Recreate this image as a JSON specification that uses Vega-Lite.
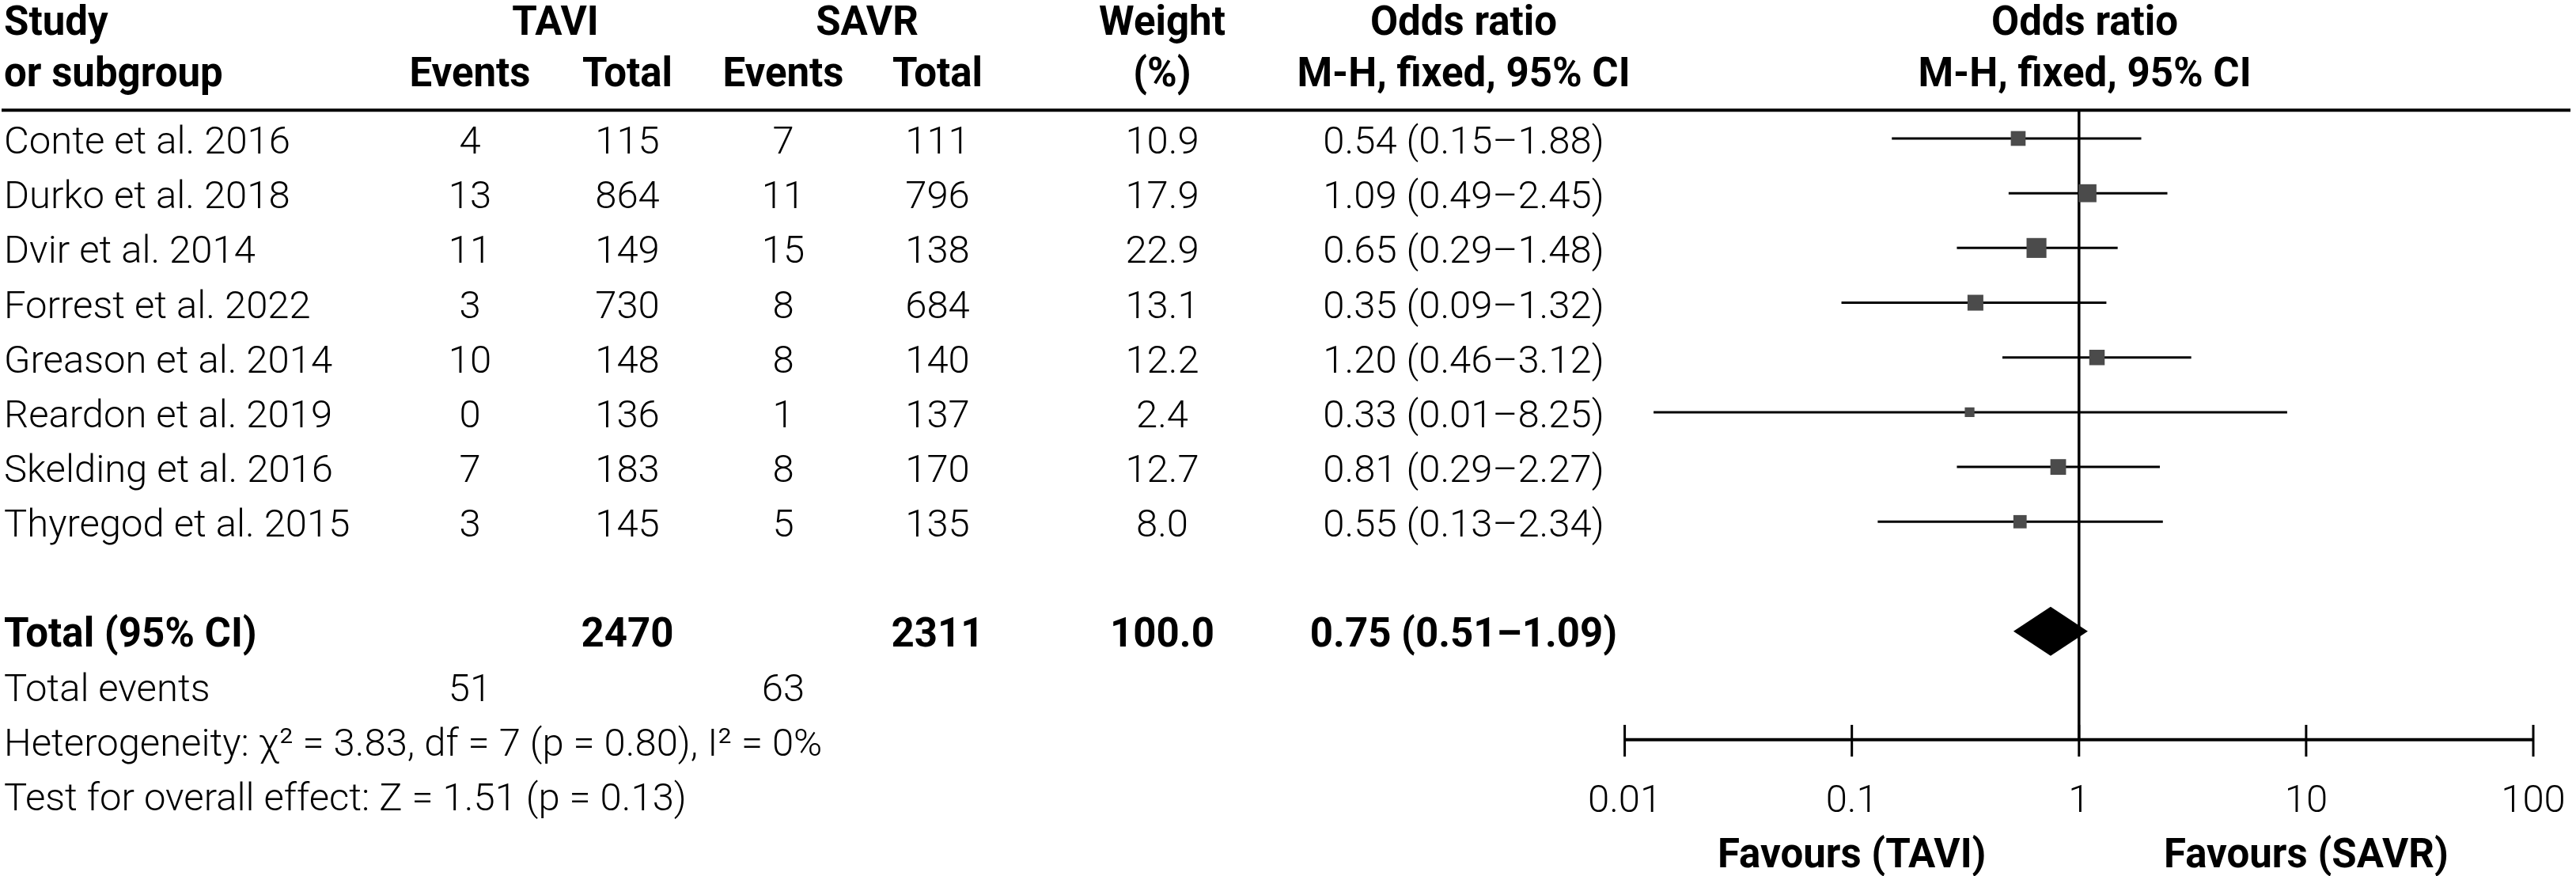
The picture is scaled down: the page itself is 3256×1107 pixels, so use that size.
{
  "$schema": "https://vega.github.io/schema/vega-lite/v6.json",
  "padding": 0,
  "spacing": 0,
  "bounds": "flush",
  "background": "white",
  "config": {
    "view": {"stroke": null},
    "axis": {"disable": true},
    "legend": {"disable": true},
    "text": {"font": "Roboto", "fontSize": 49, "fontWeight": 300, "baseline": "middle", "dy": 4, "color": "black"}
  },
  "datasets": {
    "one": [{}],
    "studies": [
      {"study": "Conte et al. 2016", "te": 4, "tt": 115, "se": 7, "st": 111, "w": 10.9, "or": 0.54, "lo": 0.15, "hi": 1.88, "ci": "0.54 (0.15–1.88)"},
      {"study": "Durko et al. 2018", "te": 13, "tt": 864, "se": 11, "st": 796, "w": 17.9, "or": 1.09, "lo": 0.49, "hi": 2.45, "ci": "1.09 (0.49–2.45)"},
      {"study": "Dvir et al. 2014", "te": 11, "tt": 149, "se": 15, "st": 138, "w": 22.9, "or": 0.65, "lo": 0.29, "hi": 1.48, "ci": "0.65 (0.29–1.48)"},
      {"study": "Forrest et al. 2022", "te": 3, "tt": 730, "se": 8, "st": 684, "w": 13.1, "or": 0.35, "lo": 0.09, "hi": 1.32, "ci": "0.35 (0.09–1.32)"},
      {"study": "Greason et al. 2014", "te": 10, "tt": 148, "se": 8, "st": 140, "w": 12.2, "or": 1.20, "lo": 0.46, "hi": 3.12, "ci": "1.20 (0.46–3.12)"},
      {"study": "Reardon et al. 2019", "te": 0, "tt": 136, "se": 1, "st": 137, "w": 2.4, "or": 0.33, "lo": 0.0134, "hi": 8.25, "ci": "0.33 (0.01–8.25)"},
      {"study": "Skelding et al. 2016", "te": 7, "tt": 183, "se": 8, "st": 170, "w": 12.7, "or": 0.81, "lo": 0.29, "hi": 2.27, "ci": "0.81 (0.29–2.27)"},
      {"study": "Thyregod et al. 2015", "te": 3, "tt": 145, "se": 5, "st": 135, "w": 8.0, "or": 0.55, "lo": 0.13, "hi": 2.34, "ci": "0.55 (0.13–2.34)"}
    ],
    "total": [{"label": "Total (95% CI)", "tt": 2470, "st": 2311, "w": 100.0, "or": 0.75, "lo": 0.51, "hi": 1.09, "ci": "0.75 (0.51–1.09)"}],
    "events": [{"label": "Total events", "te": 51, "se": 63}],
    "notes": [
      {"kind": "het", "text": "Heterogeneity: χ² = 3.83, df = 7 (p = 0.80), I² = 0%"},
      {"kind": "test", "text": "Test for overall effect: Z = 1.51 (p = 0.13)"}
    ],
    "headers": [
      {"col": "study", "line": 1, "text": "Study"},
      {"col": "study", "line": 2, "text": "or subgroup"},
      {"col": "tavi", "line": 1, "text": "TAVI"},
      {"col": "te", "line": 2, "text": "Events"},
      {"col": "tt", "line": 2, "text": "Total"},
      {"col": "savr", "line": 1, "text": "SAVR"},
      {"col": "se", "line": 2, "text": "Events"},
      {"col": "st", "line": 2, "text": "Total"},
      {"col": "w", "line": 1, "text": "Weight"},
      {"col": "w", "line": 2, "text": "(%)"},
      {"col": "or", "line": 1, "text": "Odds ratio"},
      {"col": "or", "line": 2, "text": "M-H, fixed, 95% CI"},
      {"col": "plot", "line": 1, "text": "Odds ratio"},
      {"col": "plot", "line": 2, "text": "M-H, fixed, 95% CI"}
    ],
    "ticks": [
      {"v": 0.01, "label": "0.01"},
      {"v": 0.1, "label": "0.1"},
      {"v": 1, "label": "1"},
      {"v": 10, "label": "10"},
      {"v": 100, "label": "100"}
    ],
    "favours": [
      {"v": 0.1, "label": "Favours (TAVI)"},
      {"v": 10, "label": "Favours (SAVR)"}
    ]
  },
  "hconcat": [
    {
      "width": 484, "height": 1107,
      "layer": [
        {"data": {"name": "one"}, "mark": {"type": "rule", "strokeWidth": 4, "color": "black"},
         "encoding": {"y": {"datum": 0.484, "type": "quantitative", "scale": {"domain": [-1.529, 14.471], "reverse": true, "nice": false, "zero": false}, "axis": null}}},
        {"data": {"name": "headers"}, "transform": [{"filter": "datum.col === 'study' && datum.line === 1"}],
         "mark": {"type": "text", "fontWeight": "bold", "fontSize": 51, "align": "left", "dx": 3},
         "encoding": {"x": {"datum": "l", "type": "nominal", "scale": {"type": "point", "domain": ["l", "r"], "padding": 0}, "axis": null},
                      "y": {"datum": -1.17, "type": "quantitative", "scale": {"domain": [-1.529, 14.471], "reverse": true, "nice": false, "zero": false}, "axis": null},
                      "text": {"field": "text"}}},
        {"data": {"name": "headers"}, "transform": [{"filter": "datum.col === 'study' && datum.line === 2"}],
         "mark": {"type": "text", "fontWeight": "bold", "fontSize": 51, "align": "left", "dx": 3},
         "encoding": {"x": {"datum": "l", "type": "nominal", "scale": {"type": "point", "domain": ["l", "r"], "padding": 0}, "axis": null},
                      "y": {"datum": -0.233, "type": "quantitative", "scale": {"domain": [-1.529, 14.471], "reverse": true, "nice": false, "zero": false}, "axis": null},
                      "text": {"field": "text"}}},
        {"data": {"name": "studies"}, "transform": [{"window": [{"op": "row_number", "as": "row"}]}],
         "mark": {"type": "text", "align": "left", "dx": 3},
         "encoding": {"x": {"datum": "l", "type": "nominal", "scale": {"type": "point", "domain": ["l", "r"], "padding": 0}, "axis": null},
                      "y": {"field": "row", "type": "quantitative", "scale": {"domain": [-1.529, 14.471], "reverse": true, "nice": false, "zero": false}, "axis": null},
                      "text": {"field": "study"}}},
        {"data": {"name": "total"},
         "mark": {"type": "text", "align": "left", "dx": 3, "fontWeight": "bold", "fontSize": 51},
         "encoding": {"x": {"datum": "l", "type": "nominal", "scale": {"type": "point", "domain": ["l", "r"], "padding": 0}, "axis": null},
                      "y": {"datum": 10, "type": "quantitative", "scale": {"domain": [-1.529, 14.471], "reverse": true, "nice": false, "zero": false}, "axis": null},
                      "text": {"field": "label"}}},
        {"data": {"name": "events"},
         "mark": {"type": "text", "align": "left", "dx": 3},
         "encoding": {"x": {"datum": "l", "type": "nominal", "scale": {"type": "point", "domain": ["l", "r"], "padding": 0}, "axis": null},
                      "y": {"datum": 11, "type": "quantitative", "scale": {"domain": [-1.529, 14.471], "reverse": true, "nice": false, "zero": false}, "axis": null},
                      "text": {"field": "label"}}},
        {"data": {"name": "notes"}, "transform": [{"filter": "datum.kind === 'het'"}],
         "mark": {"type": "text", "align": "left", "dx": 3},
         "encoding": {"x": {"datum": "l", "type": "nominal", "scale": {"type": "point", "domain": ["l", "r"], "padding": 0}, "axis": null},
                      "y": {"datum": 12, "type": "quantitative", "scale": {"domain": [-1.529, 14.471], "reverse": true, "nice": false, "zero": false}, "axis": null},
                      "text": {"field": "text"}}},
        {"data": {"name": "notes"}, "transform": [{"filter": "datum.kind === 'test'"}],
         "mark": {"type": "text", "align": "left", "dx": 3},
         "encoding": {"x": {"datum": "l", "type": "nominal", "scale": {"type": "point", "domain": ["l", "r"], "padding": 0}, "axis": null},
                      "y": {"datum": 13, "type": "quantitative", "scale": {"domain": [-1.529, 14.471], "reverse": true, "nice": false, "zero": false}, "axis": null},
                      "text": {"field": "text"}}}
      ]
    },
    {
      "width": 216, "height": 1107,
      "layer": [
        {"data": {"name": "one"}, "mark": {"type": "rule", "strokeWidth": 4, "color": "black"},
         "encoding": {"y": {"datum": 0.484, "type": "quantitative", "scale": {"domain": [-1.529, 14.471], "reverse": true, "nice": false, "zero": false}, "axis": null}}},
        {"data": {"name": "headers"}, "transform": [{"filter": "datum.col === 'tavi'"}],
         "mark": {"type": "text", "fontWeight": "bold", "fontSize": 51},
         "encoding": {"x": {"datum": "r", "type": "nominal", "scale": {"type": "point", "domain": ["l", "r"], "padding": 0}, "axis": null},
                      "y": {"datum": -1.17, "type": "quantitative", "scale": {"domain": [-1.529, 14.471], "reverse": true, "nice": false, "zero": false}, "axis": null},
                      "text": {"field": "text"}}},
        {"data": {"name": "headers"}, "transform": [{"filter": "datum.col === 'te'"}],
         "mark": {"type": "text", "fontWeight": "bold", "fontSize": 51},
         "encoding": {"y": {"datum": -0.233, "type": "quantitative", "scale": {"domain": [-1.529, 14.471], "reverse": true, "nice": false, "zero": false}, "axis": null},
                      "text": {"field": "text"}}},
        {"data": {"name": "studies"}, "transform": [{"window": [{"op": "row_number", "as": "row"}]}],
         "mark": {"type": "text"},
         "encoding": {"y": {"field": "row", "type": "quantitative", "scale": {"domain": [-1.529, 14.471], "reverse": true, "nice": false, "zero": false}, "axis": null},
                      "text": {"field": "te", "type": "quantitative", "format": "d"}}},
        {"data": {"name": "events"},
         "mark": {"type": "text"},
         "encoding": {"y": {"datum": 11, "type": "quantitative", "scale": {"domain": [-1.529, 14.471], "reverse": true, "nice": false, "zero": false}, "axis": null},
                      "text": {"field": "te", "type": "quantitative", "format": "d"}}}
      ]
    },
    {
      "width": 182, "height": 1107,
      "layer": [
        {"data": {"name": "one"}, "mark": {"type": "rule", "strokeWidth": 4, "color": "black"},
         "encoding": {"y": {"datum": 0.484, "type": "quantitative", "scale": {"domain": [-1.529, 14.471], "reverse": true, "nice": false, "zero": false}, "axis": null}}},
        {"data": {"name": "headers"}, "transform": [{"filter": "datum.col === 'tt'"}],
         "mark": {"type": "text", "fontWeight": "bold", "fontSize": 51},
         "encoding": {"y": {"datum": -0.233, "type": "quantitative", "scale": {"domain": [-1.529, 14.471], "reverse": true, "nice": false, "zero": false}, "axis": null},
                      "text": {"field": "text"}}},
        {"data": {"name": "studies"}, "transform": [{"window": [{"op": "row_number", "as": "row"}]}],
         "mark": {"type": "text"},
         "encoding": {"y": {"field": "row", "type": "quantitative", "scale": {"domain": [-1.529, 14.471], "reverse": true, "nice": false, "zero": false}, "axis": null},
                      "text": {"field": "tt", "type": "quantitative", "format": "d"}}},
        {"data": {"name": "total"},
         "mark": {"type": "text", "fontWeight": "bold", "fontSize": 51},
         "encoding": {"y": {"datum": 10, "type": "quantitative", "scale": {"domain": [-1.529, 14.471], "reverse": true, "nice": false, "zero": false}, "axis": null},
                      "text": {"field": "tt", "type": "quantitative", "format": "d"}}}
      ]
    },
    {
      "width": 212, "height": 1107,
      "layer": [
        {"data": {"name": "one"}, "mark": {"type": "rule", "strokeWidth": 4, "color": "black"},
         "encoding": {"y": {"datum": 0.484, "type": "quantitative", "scale": {"domain": [-1.529, 14.471], "reverse": true, "nice": false, "zero": false}, "axis": null}}},
        {"data": {"name": "headers"}, "transform": [{"filter": "datum.col === 'savr'"}],
         "mark": {"type": "text", "fontWeight": "bold", "fontSize": 51},
         "encoding": {"x": {"datum": "r", "type": "nominal", "scale": {"type": "point", "domain": ["l", "r"], "padding": 0}, "axis": null},
                      "y": {"datum": -1.17, "type": "quantitative", "scale": {"domain": [-1.529, 14.471], "reverse": true, "nice": false, "zero": false}, "axis": null},
                      "text": {"field": "text"}}},
        {"data": {"name": "headers"}, "transform": [{"filter": "datum.col === 'se'"}],
         "mark": {"type": "text", "fontWeight": "bold", "fontSize": 51},
         "encoding": {"y": {"datum": -0.233, "type": "quantitative", "scale": {"domain": [-1.529, 14.471], "reverse": true, "nice": false, "zero": false}, "axis": null},
                      "text": {"field": "text"}}},
        {"data": {"name": "studies"}, "transform": [{"window": [{"op": "row_number", "as": "row"}]}],
         "mark": {"type": "text"},
         "encoding": {"y": {"field": "row", "type": "quantitative", "scale": {"domain": [-1.529, 14.471], "reverse": true, "nice": false, "zero": false}, "axis": null},
                      "text": {"field": "se", "type": "quantitative", "format": "d"}}},
        {"data": {"name": "events"},
         "mark": {"type": "text"},
         "encoding": {"y": {"datum": 11, "type": "quantitative", "scale": {"domain": [-1.529, 14.471], "reverse": true, "nice": false, "zero": false}, "axis": null},
                      "text": {"field": "se", "type": "quantitative", "format": "d"}}}
      ]
    },
    {
      "width": 178, "height": 1107,
      "layer": [
        {"data": {"name": "one"}, "mark": {"type": "rule", "strokeWidth": 4, "color": "black"},
         "encoding": {"y": {"datum": 0.484, "type": "quantitative", "scale": {"domain": [-1.529, 14.471], "reverse": true, "nice": false, "zero": false}, "axis": null}}},
        {"data": {"name": "headers"}, "transform": [{"filter": "datum.col === 'st'"}],
         "mark": {"type": "text", "fontWeight": "bold", "fontSize": 51},
         "encoding": {"y": {"datum": -0.233, "type": "quantitative", "scale": {"domain": [-1.529, 14.471], "reverse": true, "nice": false, "zero": false}, "axis": null},
                      "text": {"field": "text"}}},
        {"data": {"name": "studies"}, "transform": [{"window": [{"op": "row_number", "as": "row"}]}],
         "mark": {"type": "text"},
         "encoding": {"y": {"field": "row", "type": "quantitative", "scale": {"domain": [-1.529, 14.471], "reverse": true, "nice": false, "zero": false}, "axis": null},
                      "text": {"field": "st", "type": "quantitative", "format": "d"}}},
        {"data": {"name": "total"},
         "mark": {"type": "text", "fontWeight": "bold", "fontSize": 51},
         "encoding": {"y": {"datum": 10, "type": "quantitative", "scale": {"domain": [-1.529, 14.471], "reverse": true, "nice": false, "zero": false}, "axis": null},
                      "text": {"field": "st", "type": "quantitative", "format": "d"}}}
      ]
    },
    {
      "width": 390, "height": 1107,
      "layer": [
        {"data": {"name": "one"}, "mark": {"type": "rule", "strokeWidth": 4, "color": "black"},
         "encoding": {"y": {"datum": 0.484, "type": "quantitative", "scale": {"domain": [-1.529, 14.471], "reverse": true, "nice": false, "zero": false}, "axis": null}}},
        {"data": {"name": "headers"}, "transform": [{"filter": "datum.col === 'w' && datum.line === 1"}],
         "mark": {"type": "text", "fontWeight": "bold", "fontSize": 51},
         "encoding": {"y": {"datum": -1.17, "type": "quantitative", "scale": {"domain": [-1.529, 14.471], "reverse": true, "nice": false, "zero": false}, "axis": null},
                      "text": {"field": "text"}}},
        {"data": {"name": "headers"}, "transform": [{"filter": "datum.col === 'w' && datum.line === 2"}],
         "mark": {"type": "text", "fontWeight": "bold", "fontSize": 51},
         "encoding": {"y": {"datum": -0.233, "type": "quantitative", "scale": {"domain": [-1.529, 14.471], "reverse": true, "nice": false, "zero": false}, "axis": null},
                      "text": {"field": "text"}}},
        {"data": {"name": "studies"}, "transform": [{"window": [{"op": "row_number", "as": "row"}]}],
         "mark": {"type": "text"},
         "encoding": {"y": {"field": "row", "type": "quantitative", "scale": {"domain": [-1.529, 14.471], "reverse": true, "nice": false, "zero": false}, "axis": null},
                      "text": {"field": "w", "type": "quantitative", "format": ".1f"}}},
        {"data": {"name": "total"},
         "mark": {"type": "text", "fontWeight": "bold", "fontSize": 51},
         "encoding": {"y": {"datum": 10, "type": "quantitative", "scale": {"domain": [-1.529, 14.471], "reverse": true, "nice": false, "zero": false}, "axis": null},
                      "text": {"field": "w", "type": "quantitative", "format": ".1f"}}}
      ]
    },
    {
      "width": 372, "height": 1107,
      "layer": [
        {"data": {"name": "one"}, "mark": {"type": "rule", "strokeWidth": 4, "color": "black"},
         "encoding": {"y": {"datum": 0.484, "type": "quantitative", "scale": {"domain": [-1.529, 14.471], "reverse": true, "nice": false, "zero": false}, "axis": null}}},
        {"data": {"name": "headers"}, "transform": [{"filter": "datum.col === 'or' && datum.line === 1"}],
         "mark": {"type": "text", "fontWeight": "bold", "fontSize": 51},
         "encoding": {"y": {"datum": -1.17, "type": "quantitative", "scale": {"domain": [-1.529, 14.471], "reverse": true, "nice": false, "zero": false}, "axis": null},
                      "text": {"field": "text"}}},
        {"data": {"name": "headers"}, "transform": [{"filter": "datum.col === 'or' && datum.line === 2"}],
         "mark": {"type": "text", "fontWeight": "bold", "fontSize": 51},
         "encoding": {"y": {"datum": -0.233, "type": "quantitative", "scale": {"domain": [-1.529, 14.471], "reverse": true, "nice": false, "zero": false}, "axis": null},
                      "text": {"field": "text"}}},
        {"data": {"name": "studies"}, "transform": [{"window": [{"op": "row_number", "as": "row"}]}],
         "mark": {"type": "text"},
         "encoding": {"y": {"field": "row", "type": "quantitative", "scale": {"domain": [-1.529, 14.471], "reverse": true, "nice": false, "zero": false}, "axis": null},
                      "text": {"field": "ci"}}},
        {"data": {"name": "total"},
         "mark": {"type": "text", "fontWeight": "bold", "fontSize": 51},
         "encoding": {"y": {"datum": 10, "type": "quantitative", "scale": {"domain": [-1.529, 14.471], "reverse": true, "nice": false, "zero": false}, "axis": null},
                      "text": {"field": "ci"}}}
      ]
    },
    {
      "width": 1222, "height": 1107,
      "layer": [
        {"data": {"name": "one"}, "mark": {"type": "rule", "strokeWidth": 4, "color": "black"},
         "encoding": {"x": {"datum": 0.008685, "type": "quantitative", "scale": {"type": "log", "domain": [0.008685, 156.7], "nice": false, "zero": false}, "axis": null},
                      "x2": {"datum": 145.8},
                      "y": {"datum": 0.484, "type": "quantitative", "scale": {"domain": [-1.529, 14.471], "reverse": true, "nice": false, "zero": false}, "axis": null}}},
        {"data": {"name": "one"}, "mark": {"type": "rule", "strokeWidth": 3.5, "color": "black"},
         "encoding": {"x": {"datum": 1, "type": "quantitative", "scale": {"type": "log", "domain": [0.008685, 156.7], "nice": false, "zero": false}, "axis": null},
                      "y": {"datum": 0.484, "type": "quantitative", "scale": {"domain": [-1.529, 14.471], "reverse": true, "nice": false, "zero": false}, "axis": null},
                      "y2": {"datum": 11.98}}},
        {"data": {"name": "one"}, "mark": {"type": "rule", "strokeWidth": 4, "color": "black"},
         "encoding": {"x": {"datum": 0.01, "type": "quantitative", "scale": {"type": "log", "domain": [0.008685, 156.7], "nice": false, "zero": false}, "axis": null},
                      "x2": {"datum": 100},
                      "y": {"datum": 11.98, "type": "quantitative", "scale": {"domain": [-1.529, 14.471], "reverse": true, "nice": false, "zero": false}, "axis": null}}},
        {"data": {"name": "ticks"}, "mark": {"type": "rule", "strokeWidth": 3, "color": "black"},
         "encoding": {"x": {"field": "v", "type": "quantitative", "scale": {"type": "log", "domain": [0.008685, 156.7], "nice": false, "zero": false}, "axis": null},
                      "y": {"datum": 11.71, "type": "quantitative", "scale": {"domain": [-1.529, 14.471], "reverse": true, "nice": false, "zero": false}, "axis": null},
                      "y2": {"datum": 12.29}}},
        {"data": {"name": "ticks"}, "mark": {"type": "text"},
         "encoding": {"x": {"field": "v", "type": "quantitative", "scale": {"type": "log", "domain": [0.008685, 156.7], "nice": false, "zero": false}, "axis": null},
                      "y": {"datum": 13.03, "type": "quantitative", "scale": {"domain": [-1.529, 14.471], "reverse": true, "nice": false, "zero": false}, "axis": null},
                      "text": {"field": "label"}}},
        {"data": {"name": "favours"}, "mark": {"type": "text", "fontWeight": "bold", "fontSize": 51},
         "encoding": {"x": {"field": "v", "type": "quantitative", "scale": {"type": "log", "domain": [0.008685, 156.7], "nice": false, "zero": false}, "axis": null},
                      "y": {"datum": 14.04, "type": "quantitative", "scale": {"domain": [-1.529, 14.471], "reverse": true, "nice": false, "zero": false}, "axis": null},
                      "text": {"field": "label"}}},
        {"data": {"name": "headers"}, "transform": [{"filter": "datum.col === 'plot' && datum.line === 1"}],
         "mark": {"type": "text", "fontWeight": "bold", "fontSize": 51},
         "encoding": {"x": {"datum": 1.06, "type": "quantitative", "scale": {"type": "log", "domain": [0.008685, 156.7], "nice": false, "zero": false}, "axis": null},
                      "y": {"datum": -1.17, "type": "quantitative", "scale": {"domain": [-1.529, 14.471], "reverse": true, "nice": false, "zero": false}, "axis": null},
                      "text": {"field": "text"}}},
        {"data": {"name": "headers"}, "transform": [{"filter": "datum.col === 'plot' && datum.line === 2"}],
         "mark": {"type": "text", "fontWeight": "bold", "fontSize": 51},
         "encoding": {"x": {"datum": 1.06, "type": "quantitative", "scale": {"type": "log", "domain": [0.008685, 156.7], "nice": false, "zero": false}, "axis": null},
                      "y": {"datum": -0.233, "type": "quantitative", "scale": {"domain": [-1.529, 14.471], "reverse": true, "nice": false, "zero": false}, "axis": null},
                      "text": {"field": "text"}}},
        {"data": {"name": "studies"}, "transform": [{"window": [{"op": "row_number", "as": "row"}]}],
         "mark": {"type": "rule", "strokeWidth": 3, "color": "black"},
         "encoding": {"x": {"field": "lo", "type": "quantitative", "scale": {"type": "log", "domain": [0.008685, 156.7], "nice": false, "zero": false}, "axis": null},
                      "x2": {"field": "hi"},
                      "y": {"field": "row", "type": "quantitative", "scale": {"domain": [-1.529, 14.471], "reverse": true, "nice": false, "zero": false}, "axis": null}}},
        {"data": {"name": "studies"}, "transform": [{"window": [{"op": "row_number", "as": "row"}]}],
         "mark": {"type": "point", "shape": "square", "filled": true, "opacity": 1, "color": "#4b4b4b", "strokeWidth": 0},
         "encoding": {"x": {"field": "or", "type": "quantitative", "scale": {"type": "log", "domain": [0.008685, 156.7], "nice": false, "zero": false}, "axis": null},
                      "y": {"field": "row", "type": "quantitative", "scale": {"domain": [-1.529, 14.471], "reverse": true, "nice": false, "zero": false}, "axis": null},
                      "size": {"field": "w", "type": "quantitative", "scale": {"domain": [0, 25], "range": [93, 681], "zero": false}, "legend": null}}},
        {"data": {"name": "total"},
         "mark": {"type": "point", "shape": "M-1,0L0,-0.66L1,0L0,0.66Z", "filled": true, "opacity": 1, "color": "black", "strokeWidth": 0, "size": 8836},
         "encoding": {"x": {"field": "or", "type": "quantitative", "scale": {"type": "log", "domain": [0.008685, 156.7], "nice": false, "zero": false}, "axis": null},
                      "y": {"datum": 10, "type": "quantitative", "scale": {"domain": [-1.529, 14.471], "reverse": true, "nice": false, "zero": false}, "axis": null}}}
      ]
    }
  ]
}
